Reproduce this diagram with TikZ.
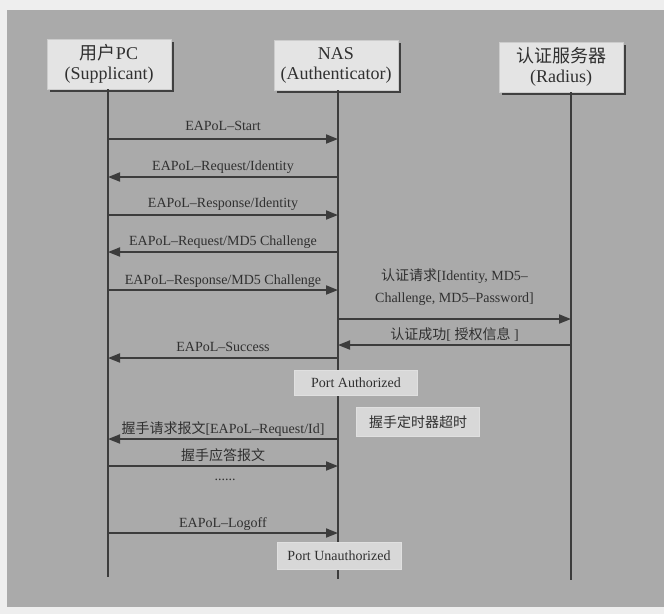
\documentclass[tikz,border=0pt]{standalone}
\usepackage{fontspec}
\setmainfont{Liberation Serif}
\newfontfamily\cjk{Noto Sans CJK SC}
\usetikzlibrary{arrows.meta,shadows}
\definecolor{bgc}{RGB}{170,170,170}
\definecolor{outerc}{RGB}{238,238,238}
\definecolor{boxc}{RGB}{228,228,228}
\definecolor{statec}{RGB}{216,216,216}
\definecolor{inkc}{RGB}{48,48,48}
\definecolor{linec}{RGB}{60,60,60}
\begin{document}
\begin{tikzpicture}[x=1pt,y=-1pt,
  head/.style={draw=white!80!black, fill=boxc, minimum width=124pt, minimum height=50pt,
    align=center, font=\fontsize{18}{20}\selectfont, text=inkc, inner sep=0pt,
    drop shadow={shadow xshift=2.5pt, shadow yshift=-2.5pt, fill=black!75, opacity=1}},
  life/.style={draw=linec, line width=1.4pt},
  msg/.style={draw=linec, line width=1.8pt, -{Triangle[length=12pt,width=9pt]}},
  lbl/.style={font=\fontsize{14}{16}\selectfont, text=inkc, inner sep=0pt,
    text height=10pt, text depth=3pt},
  lbltwo/.style={font=\fontsize{14}{22}\selectfont, text=inkc, inner sep=0pt, align=center},
  state/.style={fill=statec, draw=white!88!black, text=inkc, font=\fontsize{14}{16}\selectfont,
    inner sep=0pt, minimum height=25pt, minimum width=123pt}
]
\useasboundingbox (0,0) rectangle (664,614);
\fill[outerc] (0,0) rectangle (664,614);
\fill[bgc] (7,10) rectangle (664,607);

% headers
\node[head] (pc) at (109,64) {{\cjk 用户}PC\\(Supplicant)};
\node[head] (nas) at (336,65) {NAS\\(Authenticator)};
\node[head] (rad) at (561,67) {{\cjk 认证服务器}\\(Radius)};

% lifelines
\coordinate (pcB) at (108,577);
\coordinate (nasB) at (338,579);
\coordinate (radB) at (571,580);
\draw[life] (pcB |- pc.south) -- (pcB);
\draw[life] (nasB |- nas.south) -- (nasB);
\draw[life] (radB |- rad.south) -- (radB);

% message end points
\foreach \n/\y in {1/139,2/177,3/215,4/252,5/290,8/358,11/439,12/466,14/533}{
  \coordinate (p\n) at (108,\y);
  \coordinate (n\n) at (338,\y);
}
\foreach \n/\y in {6/319,7/345}{
  \coordinate (n\n) at (338,\y);
  \coordinate (r\n) at (571,\y);
}

\draw[msg] (p1) -- (n1) node[midway, lbl, above=5pt] (l1) {EAPoL–Start};
\draw[msg] (n2) -- (p2) node[midway, lbl, above=3pt] (l2) {EAPoL–Request/Identity};
\draw[msg] (p3) -- (n3) node[midway, lbl, above=4pt] (l3) {EAPoL–Response/Identity};
\draw[msg] (n4) -- (p4) node[midway, lbl, above=3pt] (l4) {EAPoL–Request/MD5 Challenge};
\draw[msg] (p5) -- (n5) node[midway, lbl, above=2pt] (l5) {EAPoL–Response/MD5 Challenge};
\draw[msg] (n6) -- (r6) node[midway, lbltwo, above=13pt] (l6) {{\cjk 认证请求}[Identity, MD5–\\Challenge, MD5–Password]};
\draw[msg] (r7) -- (n7) node[midway, lbl, above=2pt] (l7) {{\cjk 认证成功}[ {\cjk 授权信息} ]};
\draw[msg] (n8) -- (p8) node[midway, lbl, above=3pt] (l8) {EAPoL–Success};
\draw[msg] (n11) -- (p11) node[midway, lbl, above=2pt] (l11) {{\cjk 握手请求报文}[EAPoL–Request/Id]};
\draw[msg] (p12) -- (n12) node[midway, lbl, above=2pt] (l12) {{\cjk 握手应答报文}};
\draw[msg] (p14) -- (n14) node[midway, lbl, above=2pt] (l14) {EAPoL–Logoff};

\node[lbl] (dots) at (225,477) {......};

% state boxes
\node[state] (pa) at (356,383) {Port Authorized};
\node[state, minimum height=29pt] (hs) at (418,422) {{\cjk 握手定时器超时}};
\node[state, minimum width=124pt, minimum height=27pt] (pu) at (339,556) {Port Unauthorized};
\end{tikzpicture}
\end{document}
